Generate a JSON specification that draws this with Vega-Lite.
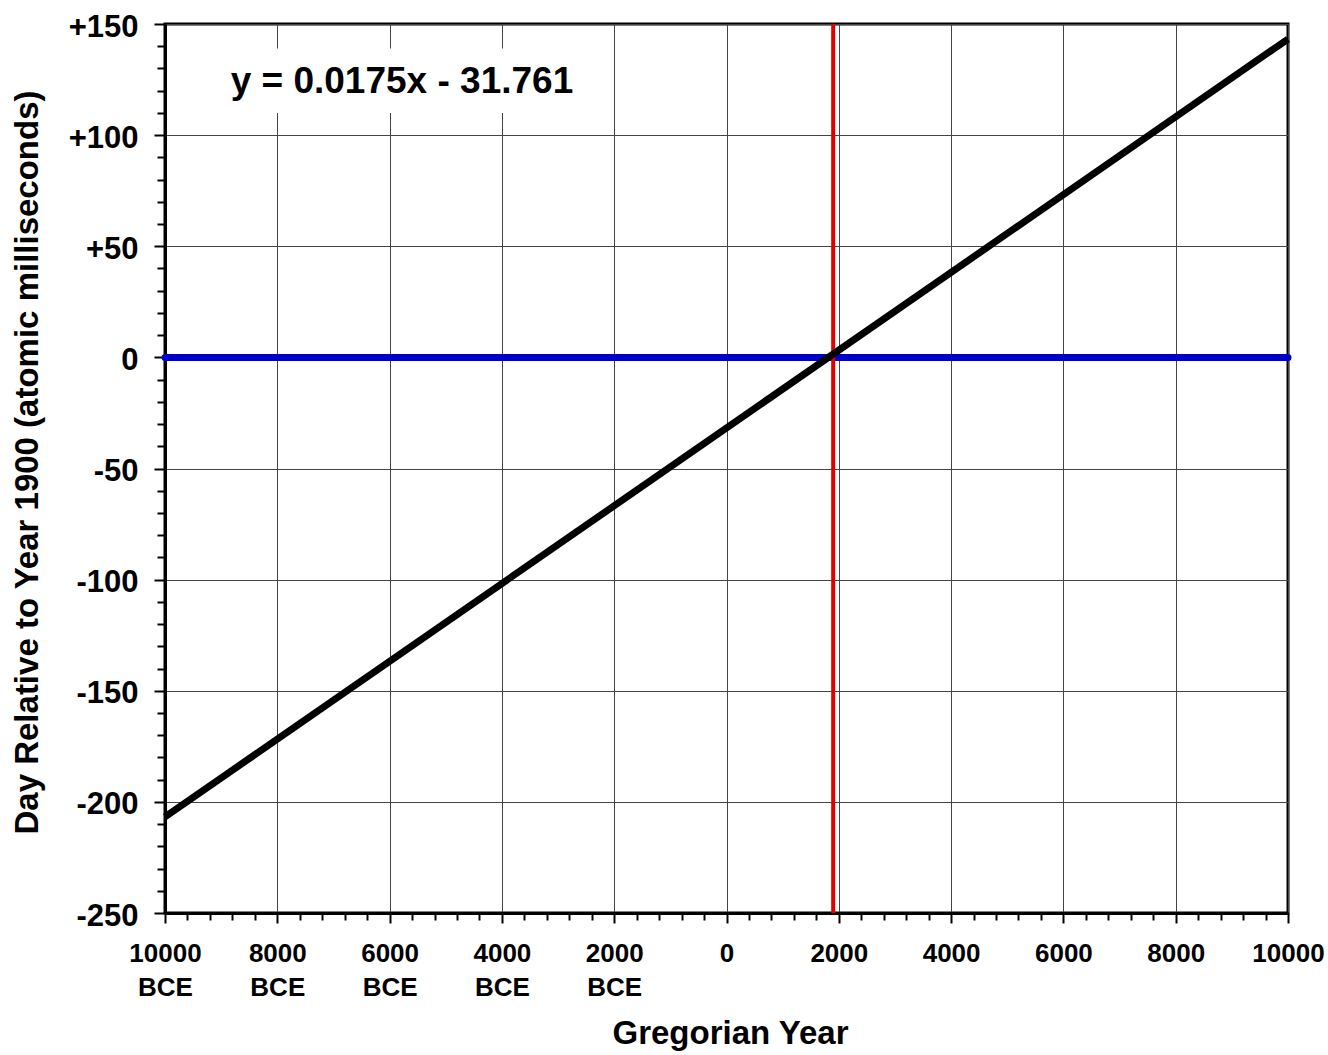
{
  "$schema": "https://vega.github.io/schema/vega-lite/v6.json",
  "width": 1123,
  "height": 889,
  "autosize": "none",
  "padding": {"left": 165, "top": 24, "right": 40, "bottom": 142},
  "background": "white",
  "config": {
    "view": {"stroke": "black", "strokeWidth": 3},
    "font": "Liberation Sans",
    "axis": {
      "labelFont": "Liberation Sans",
      "labelFontWeight": "bold",
      "labelColor": "black",
      "titleFont": "Liberation Sans",
      "titleFontWeight": "bold",
      "titleFontSize": 33,
      "titleColor": "black",
      "domainColor": "black",
      "domainWidth": 3,
      "tickColor": "black",
      "tickWidth": 2,
      "gridColor": "#444444",
      "gridWidth": 1,
      "gridOpacity": 1
    }
  },
  "data": {"values": [{"label": "y = 0.0175x - 31.761"}]},
  "datasets": {
    "fit": [
      {"year": -10000, "days": -206.761},
      {"year": 10000, "days": 143.239}
    ]
  },
  "layer": [
    {
      "mark": {"type": "rule", "color": "#0000cc", "strokeWidth": 7, "strokeCap": "round"},
      "encoding": {
        "x": {"datum": -10000, "type": "quantitative",
          "scale": {"domain": [-10000, 10000], "nice": false, "zero": false},
          "axis": {"orient": "bottom", "values": [-9600,-9200,-8800,-8400,-7600,-7200,-6800,-6400,-5600,-5200,-4800,-4400,-3600,-3200,-2800,-2400,-1600,-1200,-800,-400,400,800,1200,1600,2400,2800,3200,3600,4400,4800,5200,5600,6400,6800,7200,7600,8400,8800,9200,9600],
            "labels": false, "grid": false, "domain": false, "tickSize": 7, "title": null}},
        "x2": {"datum": 10000},
        "y": {"datum": 0, "type": "quantitative",
          "scale": {"domain": [-250, 150], "nice": false, "zero": false},
          "axis": {"orient": "left", "values": [-240,-230,-220,-210,-190,-180,-170,-160,-140,-130,-120,-110,-90,-80,-70,-60,-40,-30,-20,-10,10,20,30,40,60,70,80,90,110,120,130,140],
            "labels": false, "grid": false, "domain": false, "tickSize": 8, "title": null}}
      }
    },
    {
      "mark": {"type": "rect", "color": "white"},
      "encoding": {
        "x": {"datum": -9300, "type": "quantitative",
          "axis": {"orient": "bottom", "values": [-10000,-8000,-6000,-4000,-2000,0,2000,4000,6000,8000,10000],
            "grid": true, "tickSize": 10, "labelPadding": 17, "labelBaseline": "top", "labelLineHeight": 34, "labelFontSize": 26,
            "labelExpr": "datum.value < 0 ? [toString(-datum.value), 'BCE'] : toString(datum.value)",
            "labelFlush": false, "labelOverlap": false,
            "title": "Gregorian Year", "titleY": 130, "titleX": 565, "titleBaseline": "alphabetic"}},
        "x2": {"datum": -2400},
        "y": {"datum": 110, "type": "quantitative",
          "axis": {"orient": "left", "values": [-250,-200,-150,-100,-50,0,50,100,150],
            "grid": true, "tickSize": 11, "labelPadding": 16, "labelBaseline": "middle", "labelOffset": 3, "labelFontSize": 31,
            "labelExpr": "datum.value > 0 ? '+' + toString(datum.value) : toString(datum.value)",
            "labelFlush": false, "labelOverlap": false,
            "title": "Day Relative to Year 1900 (atomic milliseconds)", "titleX": -128, "titleY": 438, "titleBaseline": "alphabetic"}},
        "y2": {"datum": 139}
      }
    },
    {
      "mark": {"type": "text", "fontSize": 37, "fontWeight": "bold", "font": "Liberation Sans", "color": "black", "baseline": "middle", "align": "center"},
      "encoding": {
        "x": {"datum": -5780, "type": "quantitative", "axis": null},
        "y": {"datum": 124, "type": "quantitative", "axis": null},
        "text": {"field": "label"}
      }
    },
    {
      "mark": {"type": "rule", "color": "#e00000", "strokeWidth": 4},
      "encoding": {
        "x": {"datum": 1900, "type": "quantitative", "axis": null}
      }
    },
    {
      "data": {"name": "fit"},
      "mark": {"type": "line", "color": "black", "strokeWidth": 7},
      "encoding": {
        "x": {"field": "year", "type": "quantitative", "axis": null},
        "y": {"field": "days", "type": "quantitative", "axis": null}
      }
    }
  ],
  "resolve": {"axis": {"x": "independent", "y": "independent"}}
}
